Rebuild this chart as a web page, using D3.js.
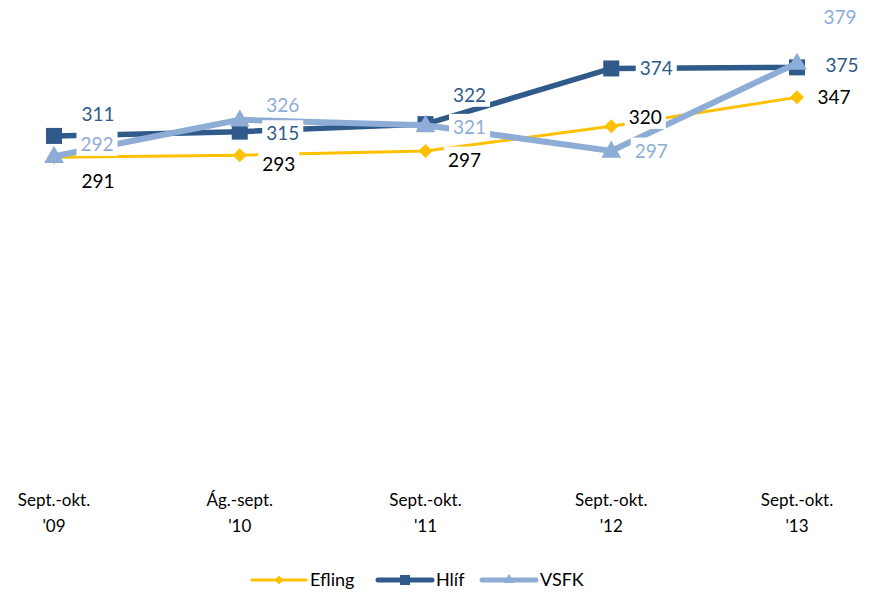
<!DOCTYPE html>
<html>
<head>
<meta charset="utf-8">
<script src="https://cdn.jsdelivr.net/npm/d3@7"></script>
<style>
body { margin: 0; background: #fff; }
text { font-family: Lato, "Open Sans", sans-serif; }
</style>
</head>
<body>
<div id="main"></div>
<script>
var categories = [["Sept.-okt.", "'09"], ["Ág.-sept.", "'10"], ["Sept.-okt.", "'11"], ["Sept.-okt.", "'12"], ["Sept.-okt.", "'13"]];
var seriesNames = ['Efling', 'Hlíf', 'VSFK'];
var efling = [291, 293, 297, 320, 347];
var hlif = [311, 315, 322, 374, 375];
var vsfk = [292, 326, 321, 297, 379];

// label offsets from each point (layout only)
var labelOffsets = [
    [[44, 24], [39, 9], [39, 9], [34, -9], [37, 0]],
    [[44, -22], [43, 2], [44, -29], [45, 0], [45, -2]],
    [[43, -12], [43, -15], [44, 2], [40, 0], [43, -46]]
];

var colors = ['#FFC000', '#2F5A8A', '#8DADD6'];
var labelColors = ['#000000', '#2F5A8A', '#8DADD6'];
var widths = [3, 5.5, 6];

var svg = d3.select('#main').append('svg')
    .attr('width', 875)
    .attr('height', 593);

var xScale = d3.scalePoint().domain(d3.range(categories.length)).range([54, 797]);
var yScale = d3.scaleLinear().domain([0, 400]).range([469, 40.6]);

var data = [efling, hlif, vsfk];

var line = d3.line()
    .x(function(d, i) { return xScale(i); })
    .y(function(d) { return yScale(d); });

var chart = svg.append('g');

function diamond(r) {
    return 'M0,' + (-r) + 'L' + r + ',0L0,' + r + 'L' + (-r) + ',0Z';
}

function drawMarker(g, k, x, y) {
    if (k == 0) {
        g.append('path').attr('d', diamond(7))
            .attr('transform', 'translate(' + [x, y] + ')')
            .attr('fill', colors[k]);
    } else if (k == 1) {
        g.append('rect').attr('x', x - 8).attr('y', y - 8)
            .attr('width', 16).attr('height', 16).attr('fill', colors[k]);
    } else {
        g.append('path').attr('d', d3.symbol(d3.symbolTriangle, 170)())
            .attr('transform', 'translate(' + [x, y + 1] + ')')
            .attr('fill', colors[k]);
    }
}

data.forEach(function(vals, k) {
    var g = chart.append('g');
    g.append('path')
        .datum(vals)
        .attr('d', line)
        .attr('fill', 'none')
        .attr('stroke', colors[k])
        .attr('stroke-width', widths[k]);
    vals.forEach(function(v, i) {
        drawMarker(g, k, xScale(i), yScale(v));
    });
});

// data labels with white boxes
var labels = svg.append('g');
data.forEach(function(vals, k) {
    vals.forEach(function(v, i) {
        var off = labelOffsets[k][i];
        var lg = labels.append('g')
            .attr('transform', 'translate(' + [xScale(i) + off[0], yScale(v) + off[1]] + ')');
        var t = lg.append('text')
            .attr('text-anchor', 'middle')
            .attr('dy', '0.35em')
            .attr('fill', labelColors[k])
            .style('font-size', '19px')
            .text(v);
        var bb = t.node().getBBox();
        lg.insert('rect', 'text')
            .attr('x', bb.x - 4).attr('y', bb.y - 1)
            .attr('width', bb.width + 8).attr('height', bb.height + 2)
            .attr('fill', '#fff');
    });
});

// x axis labels
var xLab = svg.append('g').selectAll('text')
    .data(categories)
    .enter()
    .append('text')
    .attr('x', function(d, i) { return xScale(i); })
    .attr('y', 506)
    .attr('text-anchor', 'middle')
    .style('font-size', '17px')
    .attr('fill', '#000');
xLab.append('tspan').attr('x', function(d, i) { return xScale(i); }).text(function(d) { return d[0]; });
xLab.append('tspan').attr('x', function(d, i) { return xScale(i); }).attr('dy', 26).text(function(d) { return d[1]; });

// legend
var legendX = [252, 378, 482];
var legend = svg.append('g').attr('transform', 'translate(0, 580)');
seriesNames.forEach(function(name, k) {
    var lg = legend.append('g').attr('transform', 'translate(' + legendX[k] + ',0)');
    lg.append('line').attr('x1', 0).attr('x2', 54).attr('y1', 0).attr('y2', 0)
        .attr('stroke', colors[k]).attr('stroke-width', k == 0 ? 3 : 5)
        .attr('stroke-linecap', 'round');
    if (k == 0) {
        lg.append('path').attr('d', diamond(4.5))
            .attr('transform', 'translate(27,0)').attr('fill', colors[k]);
    } else if (k == 1) {
        lg.append('rect').attr('x', 22).attr('y', -5).attr('width', 10).attr('height', 10).attr('fill', colors[k]);
    } else {
        lg.append('path').attr('d', d3.symbol(d3.symbolTriangle, 50)())
            .attr('transform', 'translate(27,0)').attr('fill', colors[k]);
    }
    lg.append('text').attr('x', 58).attr('y', 0).attr('dy', '0.35em')
        .style('font-size', '18px').attr('fill', '#000').text(name);
});
</script>
</body>
</html>
